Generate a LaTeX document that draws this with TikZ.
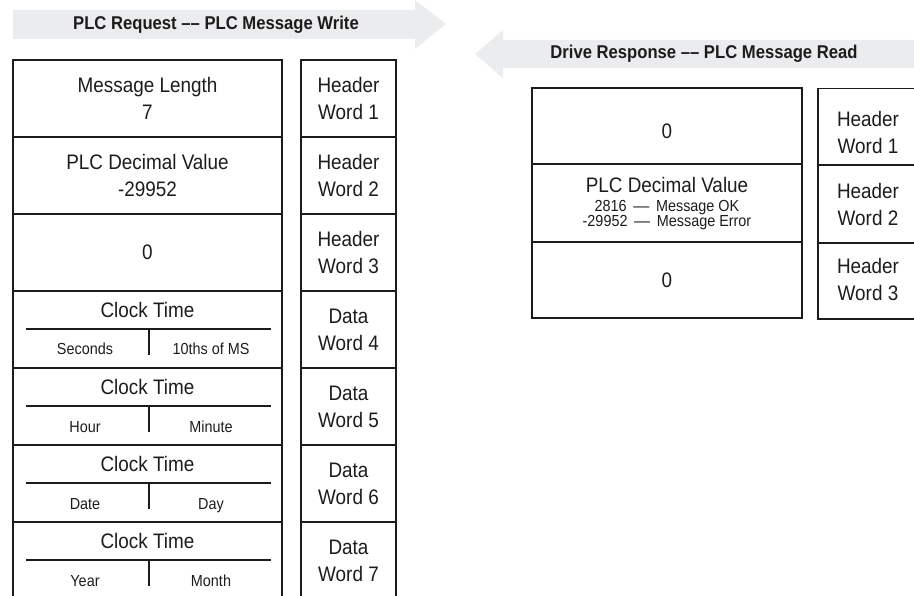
\documentclass[tikz,border=0pt]{standalone}
\usepackage{fontspec}
\setmainfont{Liberation Sans}[FakeStretch=0.9]
\definecolor{band}{RGB}{235,236,238}
\definecolor{ink}{RGB}{30,27,28}
\tikzset{
  cell/.style={draw=ink, line width=1.9pt, rectangle, inner sep=0pt, align=center, text=ink,
    font=\fontsize{21}{27}\selectfont},
  bigtxt/.style={text=ink, inner sep=0pt, align=center, font=\fontsize{21}{27}\selectfont},
  smalltxt/.style={text=ink, inner sep=0pt, align=center, font=\fontsize{16}{14}\selectfont},
  titletxt/.style={text=ink, inner sep=0pt, font=\bfseries\fontsize{18.5}{20}\selectfont},
  rule/.style={draw=ink, line width=1.9pt},
}
\begin{document}
\begin{tikzpicture}[x=1pt,y=-1pt]
\useasboundingbox (0,0) rectangle (914,596);
\clip (0,0) rectangle (914,596);
% arrows
\fill[band] (13,10) -- (415,10) -- (415,0) -- (446,24) -- (415,49) -- (415,39) -- (13,39) -- cycle;
\node[titletxt] (t1) at (216,25) {PLC Request –– PLC Message Write};
\fill[band] (920,40) -- (503,40) -- (503,30) -- (475,54) -- (503,78) -- (503,68) -- (920,68) -- cycle;
\node[titletxt] (t2) at (704,54) {Drive Response –– PLC Message Read};

% left table
\foreach \i/\t in {0/{Message Length\\7},1/{PLC Decimal Value\\-29952},2/{0}} {
  \node[cell, minimum width=269pt, minimum height=77pt] (L\i) at (147.5,{98.5+77*\i}) {\t};
}
\foreach \i in {3,4,5,6} {
  \node[cell, minimum width=269pt, minimum height=77pt] (L\i) at (147.5,{98.5+77*\i}) {};
}
\foreach \i/\a/\b in {3/Seconds/10ths of MS,4/Hour/Minute,5/Date/Day,6/Year/Month} {
  \node[bigtxt] (C\i) at (147.5,{60+77*\i+19}) {Clock Time};
  \coordinate (hl\i) at (26,{60+77*\i+38});
  \coordinate (hr\i) at (271,{60+77*\i+38});
  \coordinate (vt\i) at (149,{60+77*\i+38});
  \coordinate (vb\i) at (149,{60+77*\i+64});
  \draw[rule] (hl\i) -- (hr\i);
  \draw[rule] (vt\i) -- (vb\i);
  \node[smalltxt, anchor=base] (A\i) at (85,{60+77*\i+64}) {\a};
  \node[smalltxt, anchor=base] (B\i) at (211,{60+77*\i+64}) {\b};
}
\foreach \i/\t in {0/{Header\\Word 1},1/{Header\\Word 2},2/{Header\\Word 3},3/{Data\\Word 4},4/{Data\\Word 5},5/{Data\\Word 6},6/{Data\\Word 7}} {
  \node[cell, minimum width=95pt, minimum height=77pt] (R\i) at (348.5,{98.5+77*\i}) {\t};
}

% right table
\node[cell, minimum width=270pt, minimum height=76pt] (P0) at (667,126) {};
\node[bigtxt] (P0t) at (667,131) {0};
\node[cell, minimum width=270pt, minimum height=78pt] (P1) at (667,203) {};
\node[bigtxt] (P1t) at (667,185) {PLC Decimal Value};
\node[smalltxt] (P1a) at (667,215) {2816 \,––\, Message OK\\-29952 \,––\, Message Error};
\node[cell, minimum width=270pt, minimum height=76pt] (P2) at (667,280) {0};
\foreach \i/\y/\h in {0/127/77,1/204/78,2/281/76} {
  \node[cell, minimum width=100pt, minimum height=\h pt] (Q\i) at (868,\y) {};
}
\node[bigtxt] (Q0t) at (868,132) {Header\\Word 1};
\node[bigtxt] (Q1t) at (868,204) {Header\\Word 2};
\node[bigtxt] (Q2t) at (868,279) {Header\\Word 3};
\end{tikzpicture}
\end{document}
